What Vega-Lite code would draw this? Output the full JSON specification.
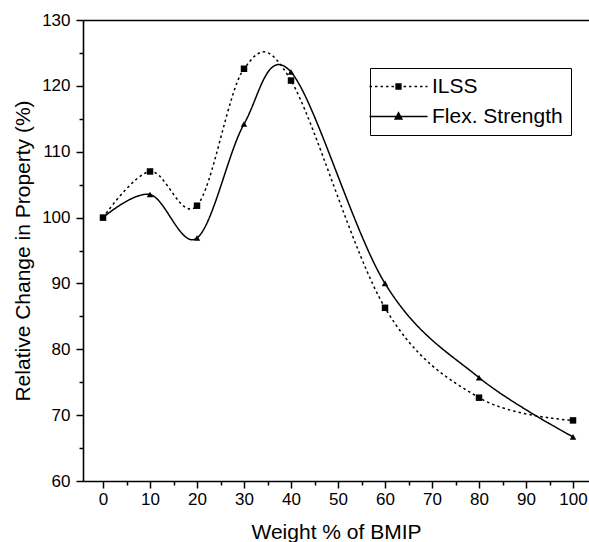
{
  "$schema": "https://vega.github.io/schema/vega-lite/v6.json",
  "width": 506,
  "height": 461,
  "autosize": "none",
  "padding": {"left": 83, "top": 20, "right": 0, "bottom": 61},
  "background": "white",
  "config": {
    "font": "Liberation Sans",
    "view": {"stroke": null},
    "axis": {
      "labelFont": "Liberation Sans",
      "titleFont": "Liberation Sans",
      "labelFontSize": 17,
      "titleFontSize": 21,
      "titleFontWeight": "normal",
      "labelColor": "black",
      "titleColor": "black",
      "domainColor": "black",
      "tickColor": "black",
      "domainWidth": 1.6,
      "tickWidth": 1.5,
      "grid": false
    },
    "legend": {
      "labelFont": "Liberation Sans",
      "labelFontSize": 21,
      "labelColor": "black"
    }
  },
  "data": {
    "values": [
      {"w": 0, "v": 100, "s": "ILSS"},
      {"w": 10, "v": 107, "s": "ILSS"},
      {"w": 20, "v": 101.8, "s": "ILSS"},
      {"w": 30, "v": 122.6, "s": "ILSS"},
      {"w": 40, "v": 120.8, "s": "ILSS"},
      {"w": 60, "v": 86.3, "s": "ILSS"},
      {"w": 80, "v": 72.65, "s": "ILSS"},
      {"w": 100, "v": 69.2, "s": "ILSS"},
      {"w": 0, "v": 100, "s": "Flex. Strength"},
      {"w": 10, "v": 103.5, "s": "Flex. Strength"},
      {"w": 20, "v": 96.9, "s": "Flex. Strength"},
      {"w": 30, "v": 114.2, "s": "Flex. Strength"},
      {"w": 40, "v": 122.1, "s": "Flex. Strength"},
      {"w": 60, "v": 90, "s": "Flex. Strength"},
      {"w": 80, "v": 75.7, "s": "Flex. Strength"},
      {"w": 100, "v": 66.7, "s": "Flex. Strength"}
    ]
  },
  "resolve": {
    "axis": {"x": "independent", "y": "independent"},
    "scale": {"shape": "independent"},
    "legend": {"shape": "independent"}
  },
  "layer": [
    {
      "mark": {"type": "line", "interpolate": "cardinal", "color": "black", "strokeWidth": 1.5},
      "encoding": {
        "x": {
          "field": "w", "type": "quantitative",
          "scale": {"domain": [-4.255, 103.4], "nice": false, "zero": false},
          "axis": {
            "orient": "bottom",
            "values": [0, 10, 20, 30, 40, 50, 60, 70, 80, 90, 100],
            "tickSize": 7,
            "labelPadding": 3,
            "title": "Weight % of BMIP",
            "titlePadding": 14
          }
        },
        "y": {
          "field": "v", "type": "quantitative",
          "scale": {"domain": [60, 130], "nice": false, "zero": false},
          "axis": {
            "orient": "left",
            "values": [60, 70, 80, 90, 100, 110, 120, 130],
            "tickSize": 7,
            "labelPadding": 6,
            "title": "Relative Change in Property (%)",
            "titlePadding": 8
          }
        },
        "detail": {"field": "s", "type": "nominal"},
        "strokeDash": {
          "condition": {"test": "datum.s === 'ILSS'", "value": [2.5, 3]},
          "value": [1, 0]
        }
      }
    },
    {
      "mark": {"type": "point", "filled": true, "color": "black", "opacity": 1, "size": 42},
      "encoding": {
        "x": {
          "field": "w", "type": "quantitative",
          "scale": {"domain": [-4.255, 103.4], "nice": false, "zero": false},
          "axis": {
            "orient": "bottom",
            "values": [5, 15, 25, 35, 45, 55, 65, 75, 85, 95],
            "tickSize": 4,
            "labels": false,
            "domain": false,
            "title": null
          }
        },
        "y": {
          "field": "v", "type": "quantitative",
          "scale": {"domain": [60, 130], "nice": false, "zero": false},
          "axis": {
            "orient": "left",
            "values": [65, 75, 85, 95, 105, 115, 125],
            "tickSize": 4,
            "labels": false,
            "domain": false,
            "title": null
          }
        },
        "shape": {
          "field": "s", "type": "nominal",
          "scale": {"domain": ["ILSS", "Flex. Strength"], "range": ["square", "triangle-up"]},
          "legend": null
        }
      }
    },
    {
      "mark": {"type": "point", "filled": false, "color": "black", "opacity": 0, "strokeWidth": 1.3},
      "encoding": {
        "x": {
          "field": "w", "type": "quantitative",
          "scale": {"domain": [-4.255, 103.4], "nice": false, "zero": false},
          "axis": {
            "orient": "top",
            "ticks": false,
            "labels": false,
            "domain": true,
            "title": null
          }
        },
        "y": {
          "field": "v", "type": "quantitative",
          "scale": {"domain": [60, 130], "nice": false, "zero": false},
          "axis": null
        },
        "shape": {
          "field": "s", "type": "nominal",
          "scale": {
            "domain": ["ILSS", "Flex. Strength"],
            "range": [
              "M-3.8,0H-3.3M-2.7,0H-2.2M-1.6,0H-1.1M-0.5,0H0M0.6,0H1.1M1.5,-0.5H2.5V0.5H1.5ZM1.5,-0.25H2.5M1.5,0H2.5M1.5,0.25H2.5M3,0H3.5M4.1,0H4.6M5.2,0H5.7M6.3,0H6.8M7.4,0H7.8",
              "M-3.8,0H7.8M2,-0.8L2.7,0.5H1.3ZM1.865,-0.55H2.135M1.731,-0.3H2.269M1.596,-0.05H2.404M1.462,0.2H2.538M1.327,0.45H2.673"
            ]
          },
          "legend": {
            "title": null,
            "orient": "none",
            "legendX": 287,
            "legendY": 48,
            "padding": 8,
            "strokeColor": "black",
            "symbolSize": 100,
            "symbolOpacity": 1,
            "symbolStrokeWidth": 1.3,
            "symbolStrokeColor": "black",
            "symbolFillColor": "black",
            "labelOffset": 33,
            "rowPadding": 8,
            "labelLimit": 300,
            "labelExpr": "datum.label + '\u00a0\u00a0\u00a0'"
          }
        }
      }
    }
  ]
}
